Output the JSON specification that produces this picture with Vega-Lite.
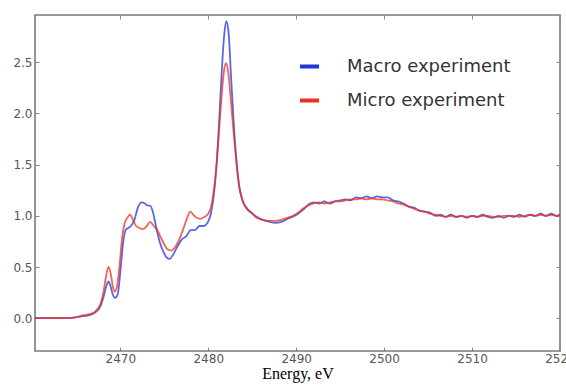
{
  "$schema": "https://vega.github.io/schema/vega-lite/v6.json",
  "width": 525,
  "height": 336,
  "autosize": {"type": "none"},
  "padding": {"left": 35, "top": 15, "right": 6, "bottom": 34},
  "background": "white",
  "config": {
    "view": {"stroke": "#7a7a7a", "strokeWidth": 1.6},
    "axis": {"grid": false, "domain": false, "labelFont": "DejaVu Sans", "labelFontSize": 12, "labelColor": "#555555", "tickColor": "#888888", "tickSize": -4, "tickWidth": 1, "labelPadding": 7, "labelFlush": false, "labelOverlap": false}
  },
  "datasets": {
    "curves": [
      {"series": "Macro experiment", "energy": 2460.3, "mu": 0.0},
      {"series": "Macro experiment", "energy": 2462, "mu": 0.0},
      {"series": "Macro experiment", "energy": 2464, "mu": 0.0},
      {"series": "Macro experiment", "energy": 2465, "mu": 0.01},
      {"series": "Macro experiment", "energy": 2465.8, "mu": 0.02},
      {"series": "Macro experiment", "energy": 2466.5, "mu": 0.03},
      {"series": "Macro experiment", "energy": 2467.2, "mu": 0.06},
      {"series": "Macro experiment", "energy": 2467.7, "mu": 0.11},
      {"series": "Macro experiment", "energy": 2468.1, "mu": 0.21},
      {"series": "Macro experiment", "energy": 2468.4, "mu": 0.31},
      {"series": "Macro experiment", "energy": 2468.65, "mu": 0.36},
      {"series": "Macro experiment", "energy": 2468.9, "mu": 0.31},
      {"series": "Macro experiment", "energy": 2469.15, "mu": 0.23},
      {"series": "Macro experiment", "energy": 2469.4, "mu": 0.2},
      {"series": "Macro experiment", "energy": 2469.7, "mu": 0.23},
      {"series": "Macro experiment", "energy": 2470.0, "mu": 0.45},
      {"series": "Macro experiment", "energy": 2470.3, "mu": 0.72},
      {"series": "Macro experiment", "energy": 2470.6, "mu": 0.86},
      {"series": "Macro experiment", "energy": 2470.9, "mu": 0.88},
      {"series": "Macro experiment", "energy": 2471.2, "mu": 0.9},
      {"series": "Macro experiment", "energy": 2471.6, "mu": 0.96},
      {"series": "Macro experiment", "energy": 2472.0, "mu": 1.08},
      {"series": "Macro experiment", "energy": 2472.4, "mu": 1.13},
      {"series": "Macro experiment", "energy": 2472.8, "mu": 1.12},
      {"series": "Macro experiment", "energy": 2473.1, "mu": 1.1},
      {"series": "Macro experiment", "energy": 2473.4, "mu": 1.1},
      {"series": "Macro experiment", "energy": 2473.7, "mu": 1.04},
      {"series": "Macro experiment", "energy": 2474.1, "mu": 0.88},
      {"series": "Macro experiment", "energy": 2474.5, "mu": 0.74},
      {"series": "Macro experiment", "energy": 2474.9, "mu": 0.65},
      {"series": "Macro experiment", "energy": 2475.3, "mu": 0.59},
      {"series": "Macro experiment", "energy": 2475.6, "mu": 0.58},
      {"series": "Macro experiment", "energy": 2476.0, "mu": 0.62},
      {"series": "Macro experiment", "energy": 2476.5, "mu": 0.7},
      {"series": "Macro experiment", "energy": 2477.0, "mu": 0.77},
      {"series": "Macro experiment", "energy": 2477.5, "mu": 0.8},
      {"series": "Macro experiment", "energy": 2478.0, "mu": 0.86},
      {"series": "Macro experiment", "energy": 2478.5, "mu": 0.86},
      {"series": "Macro experiment", "energy": 2479.0, "mu": 0.9},
      {"series": "Macro experiment", "energy": 2479.5, "mu": 0.9},
      {"series": "Macro experiment", "energy": 2479.9, "mu": 0.93},
      {"series": "Macro experiment", "energy": 2480.3, "mu": 1.02},
      {"series": "Macro experiment", "energy": 2480.6, "mu": 1.18},
      {"series": "Macro experiment", "energy": 2480.9, "mu": 1.45},
      {"series": "Macro experiment", "energy": 2481.2, "mu": 1.85},
      {"series": "Macro experiment", "energy": 2481.5, "mu": 2.35},
      {"series": "Macro experiment", "energy": 2481.8, "mu": 2.75},
      {"series": "Macro experiment", "energy": 2482.05, "mu": 2.9},
      {"series": "Macro experiment", "energy": 2482.3, "mu": 2.8},
      {"series": "Macro experiment", "energy": 2482.6, "mu": 2.35},
      {"series": "Macro experiment", "energy": 2482.9, "mu": 1.9},
      {"series": "Macro experiment", "energy": 2483.2, "mu": 1.55},
      {"series": "Macro experiment", "energy": 2483.5, "mu": 1.3},
      {"series": "Macro experiment", "energy": 2483.9, "mu": 1.15},
      {"series": "Macro experiment", "energy": 2484.4, "mu": 1.07},
      {"series": "Macro experiment", "energy": 2484.9, "mu": 1.03},
      {"series": "Macro experiment", "energy": 2485.5, "mu": 0.99},
      {"series": "Macro experiment", "energy": 2486.2, "mu": 0.96},
      {"series": "Macro experiment", "energy": 2487.0, "mu": 0.94},
      {"series": "Macro experiment", "energy": 2487.6, "mu": 0.93},
      {"series": "Macro experiment", "energy": 2488.3, "mu": 0.94},
      {"series": "Macro experiment", "energy": 2489.0, "mu": 0.97},
      {"series": "Macro experiment", "energy": 2489.6, "mu": 0.99},
      {"series": "Macro experiment", "energy": 2490.2, "mu": 1.02},
      {"series": "Macro experiment", "energy": 2490.8, "mu": 1.06},
      {"series": "Macro experiment", "energy": 2491.4, "mu": 1.11},
      {"series": "Macro experiment", "energy": 2492.0, "mu": 1.13},
      {"series": "Macro experiment", "energy": 2492.6, "mu": 1.12},
      {"series": "Macro experiment", "energy": 2493.2, "mu": 1.14},
      {"series": "Macro experiment", "energy": 2493.8, "mu": 1.12},
      {"series": "Macro experiment", "energy": 2494.4, "mu": 1.14},
      {"series": "Macro experiment", "energy": 2495.0, "mu": 1.15},
      {"series": "Macro experiment", "energy": 2495.6, "mu": 1.16},
      {"series": "Macro experiment", "energy": 2496.2, "mu": 1.15},
      {"series": "Macro experiment", "energy": 2496.8, "mu": 1.18},
      {"series": "Macro experiment", "energy": 2497.4, "mu": 1.17},
      {"series": "Macro experiment", "energy": 2498.0, "mu": 1.19},
      {"series": "Macro experiment", "energy": 2498.6, "mu": 1.17},
      {"series": "Macro experiment", "energy": 2499.2, "mu": 1.19},
      {"series": "Macro experiment", "energy": 2499.8, "mu": 1.18},
      {"series": "Macro experiment", "energy": 2500.4, "mu": 1.18},
      {"series": "Macro experiment", "energy": 2501.0, "mu": 1.15},
      {"series": "Macro experiment", "energy": 2501.6, "mu": 1.14},
      {"series": "Macro experiment", "energy": 2502.2, "mu": 1.12},
      {"series": "Macro experiment", "energy": 2502.8, "mu": 1.09},
      {"series": "Macro experiment", "energy": 2503.4, "mu": 1.08},
      {"series": "Macro experiment", "energy": 2504.0, "mu": 1.05},
      {"series": "Macro experiment", "energy": 2504.6, "mu": 1.04},
      {"series": "Macro experiment", "energy": 2505.2, "mu": 1.03},
      {"series": "Macro experiment", "energy": 2505.8, "mu": 1.0},
      {"series": "Macro experiment", "energy": 2506.4, "mu": 1.01},
      {"series": "Macro experiment", "energy": 2507.0, "mu": 0.99},
      {"series": "Macro experiment", "energy": 2507.6, "mu": 1.01},
      {"series": "Macro experiment", "energy": 2508.2, "mu": 0.99},
      {"series": "Macro experiment", "energy": 2508.8, "mu": 1.0},
      {"series": "Macro experiment", "energy": 2509.4, "mu": 0.98},
      {"series": "Macro experiment", "energy": 2510.0, "mu": 1.0},
      {"series": "Macro experiment", "energy": 2510.6, "mu": 0.99},
      {"series": "Macro experiment", "energy": 2511.2, "mu": 1.01},
      {"series": "Macro experiment", "energy": 2511.8, "mu": 0.99},
      {"series": "Macro experiment", "energy": 2512.4, "mu": 0.98},
      {"series": "Macro experiment", "energy": 2513.0, "mu": 1.0},
      {"series": "Macro experiment", "energy": 2513.6, "mu": 0.98},
      {"series": "Macro experiment", "energy": 2514.2, "mu": 1.0},
      {"series": "Macro experiment", "energy": 2514.8, "mu": 0.99},
      {"series": "Macro experiment", "energy": 2515.4, "mu": 1.01},
      {"series": "Macro experiment", "energy": 2516.0, "mu": 0.99},
      {"series": "Macro experiment", "energy": 2516.6, "mu": 1.01},
      {"series": "Macro experiment", "energy": 2517.2, "mu": 1.0},
      {"series": "Macro experiment", "energy": 2517.8, "mu": 1.02},
      {"series": "Macro experiment", "energy": 2518.4, "mu": 1.0},
      {"series": "Macro experiment", "energy": 2519.0, "mu": 1.02},
      {"series": "Macro experiment", "energy": 2519.6, "mu": 1.0},
      {"series": "Macro experiment", "energy": 2520, "mu": 1.01},
      {"series": "Micro experiment", "energy": 2460.3, "mu": 0.0},
      {"series": "Micro experiment", "energy": 2462, "mu": 0.0},
      {"series": "Micro experiment", "energy": 2464, "mu": 0.0},
      {"series": "Micro experiment", "energy": 2465, "mu": 0.01},
      {"series": "Micro experiment", "energy": 2465.8, "mu": 0.03},
      {"series": "Micro experiment", "energy": 2466.5, "mu": 0.04},
      {"series": "Micro experiment", "energy": 2467.2, "mu": 0.07},
      {"series": "Micro experiment", "energy": 2467.7, "mu": 0.13},
      {"series": "Micro experiment", "energy": 2468.1, "mu": 0.26},
      {"series": "Micro experiment", "energy": 2468.4, "mu": 0.42},
      {"series": "Micro experiment", "energy": 2468.65, "mu": 0.5},
      {"series": "Micro experiment", "energy": 2468.9, "mu": 0.44},
      {"series": "Micro experiment", "energy": 2469.15, "mu": 0.31},
      {"series": "Micro experiment", "energy": 2469.35, "mu": 0.26},
      {"series": "Micro experiment", "energy": 2469.6, "mu": 0.3},
      {"series": "Micro experiment", "energy": 2469.9, "mu": 0.5},
      {"series": "Micro experiment", "energy": 2470.2, "mu": 0.78},
      {"series": "Micro experiment", "energy": 2470.5, "mu": 0.93},
      {"series": "Micro experiment", "energy": 2470.8, "mu": 0.98},
      {"series": "Micro experiment", "energy": 2471.1, "mu": 1.01},
      {"series": "Micro experiment", "energy": 2471.4, "mu": 0.97},
      {"series": "Micro experiment", "energy": 2471.8, "mu": 0.9},
      {"series": "Micro experiment", "energy": 2472.2, "mu": 0.88},
      {"series": "Micro experiment", "energy": 2472.6, "mu": 0.87},
      {"series": "Micro experiment", "energy": 2473.0, "mu": 0.9},
      {"series": "Micro experiment", "energy": 2473.4, "mu": 0.94},
      {"series": "Micro experiment", "energy": 2473.8, "mu": 0.9},
      {"series": "Micro experiment", "energy": 2474.2, "mu": 0.86},
      {"series": "Micro experiment", "energy": 2474.6, "mu": 0.79},
      {"series": "Micro experiment", "energy": 2475.0, "mu": 0.72},
      {"series": "Micro experiment", "energy": 2475.4, "mu": 0.67},
      {"series": "Micro experiment", "energy": 2475.8, "mu": 0.66},
      {"series": "Micro experiment", "energy": 2476.2, "mu": 0.69},
      {"series": "Micro experiment", "energy": 2476.7, "mu": 0.77},
      {"series": "Micro experiment", "energy": 2477.2, "mu": 0.88},
      {"series": "Micro experiment", "energy": 2477.6, "mu": 0.98},
      {"series": "Micro experiment", "energy": 2477.95, "mu": 1.04},
      {"series": "Micro experiment", "energy": 2478.3, "mu": 1.01},
      {"series": "Micro experiment", "energy": 2478.7, "mu": 0.98},
      {"series": "Micro experiment", "energy": 2479.1, "mu": 0.97},
      {"series": "Micro experiment", "energy": 2479.6, "mu": 0.99},
      {"series": "Micro experiment", "energy": 2480.0, "mu": 1.02},
      {"series": "Micro experiment", "energy": 2480.3, "mu": 1.08},
      {"series": "Micro experiment", "energy": 2480.6, "mu": 1.22},
      {"series": "Micro experiment", "energy": 2480.9, "mu": 1.45},
      {"series": "Micro experiment", "energy": 2481.2, "mu": 1.8},
      {"series": "Micro experiment", "energy": 2481.5, "mu": 2.15},
      {"series": "Micro experiment", "energy": 2481.8, "mu": 2.42},
      {"series": "Micro experiment", "energy": 2482.0, "mu": 2.49},
      {"series": "Micro experiment", "energy": 2482.25, "mu": 2.42},
      {"series": "Micro experiment", "energy": 2482.6, "mu": 2.1},
      {"series": "Micro experiment", "energy": 2482.9, "mu": 1.8},
      {"series": "Micro experiment", "energy": 2483.2, "mu": 1.52},
      {"series": "Micro experiment", "energy": 2483.5, "mu": 1.3},
      {"series": "Micro experiment", "energy": 2483.9, "mu": 1.15},
      {"series": "Micro experiment", "energy": 2484.4, "mu": 1.07},
      {"series": "Micro experiment", "energy": 2484.9, "mu": 1.03},
      {"series": "Micro experiment", "energy": 2485.5, "mu": 0.98},
      {"series": "Micro experiment", "energy": 2486.2, "mu": 0.96},
      {"series": "Micro experiment", "energy": 2487.0, "mu": 0.95},
      {"series": "Micro experiment", "energy": 2487.6, "mu": 0.95},
      {"series": "Micro experiment", "energy": 2488.3, "mu": 0.96},
      {"series": "Micro experiment", "energy": 2489.0, "mu": 0.98},
      {"series": "Micro experiment", "energy": 2489.6, "mu": 1.0},
      {"series": "Micro experiment", "energy": 2490.2, "mu": 1.03},
      {"series": "Micro experiment", "energy": 2490.8, "mu": 1.07},
      {"series": "Micro experiment", "energy": 2491.4, "mu": 1.1},
      {"series": "Micro experiment", "energy": 2492.0, "mu": 1.12},
      {"series": "Micro experiment", "energy": 2492.6, "mu": 1.13},
      {"series": "Micro experiment", "energy": 2493.2, "mu": 1.12},
      {"series": "Micro experiment", "energy": 2493.8, "mu": 1.13},
      {"series": "Micro experiment", "energy": 2494.4, "mu": 1.14},
      {"series": "Micro experiment", "energy": 2495.0, "mu": 1.14},
      {"series": "Micro experiment", "energy": 2495.6, "mu": 1.15},
      {"series": "Micro experiment", "energy": 2496.2, "mu": 1.16},
      {"series": "Micro experiment", "energy": 2496.8, "mu": 1.16},
      {"series": "Micro experiment", "energy": 2497.4, "mu": 1.17},
      {"series": "Micro experiment", "energy": 2498.0, "mu": 1.16},
      {"series": "Micro experiment", "energy": 2498.6, "mu": 1.17},
      {"series": "Micro experiment", "energy": 2499.2, "mu": 1.16},
      {"series": "Micro experiment", "energy": 2499.8, "mu": 1.16},
      {"series": "Micro experiment", "energy": 2500.4, "mu": 1.15},
      {"series": "Micro experiment", "energy": 2501.0, "mu": 1.14},
      {"series": "Micro experiment", "energy": 2501.6, "mu": 1.12},
      {"series": "Micro experiment", "energy": 2502.2, "mu": 1.11},
      {"series": "Micro experiment", "energy": 2502.8, "mu": 1.09},
      {"series": "Micro experiment", "energy": 2503.4, "mu": 1.07},
      {"series": "Micro experiment", "energy": 2504.0, "mu": 1.05},
      {"series": "Micro experiment", "energy": 2504.6, "mu": 1.04},
      {"series": "Micro experiment", "energy": 2505.2, "mu": 1.02},
      {"series": "Micro experiment", "energy": 2505.8, "mu": 1.01},
      {"series": "Micro experiment", "energy": 2506.4, "mu": 1.0},
      {"series": "Micro experiment", "energy": 2507.0, "mu": 0.99},
      {"series": "Micro experiment", "energy": 2507.6, "mu": 1.0},
      {"series": "Micro experiment", "energy": 2508.2, "mu": 0.99},
      {"series": "Micro experiment", "energy": 2508.8, "mu": 1.0},
      {"series": "Micro experiment", "energy": 2509.4, "mu": 0.99},
      {"series": "Micro experiment", "energy": 2510.0, "mu": 1.0},
      {"series": "Micro experiment", "energy": 2510.6, "mu": 0.99},
      {"series": "Micro experiment", "energy": 2511.2, "mu": 1.0},
      {"series": "Micro experiment", "energy": 2511.8, "mu": 1.0},
      {"series": "Micro experiment", "energy": 2512.4, "mu": 0.99},
      {"series": "Micro experiment", "energy": 2513.0, "mu": 0.99},
      {"series": "Micro experiment", "energy": 2513.6, "mu": 1.0},
      {"series": "Micro experiment", "energy": 2514.2, "mu": 1.0},
      {"series": "Micro experiment", "energy": 2514.8, "mu": 1.0},
      {"series": "Micro experiment", "energy": 2515.4, "mu": 0.99},
      {"series": "Micro experiment", "energy": 2516.0, "mu": 1.0},
      {"series": "Micro experiment", "energy": 2516.6, "mu": 1.01},
      {"series": "Micro experiment", "energy": 2517.2, "mu": 1.0},
      {"series": "Micro experiment", "energy": 2517.8, "mu": 1.01},
      {"series": "Micro experiment", "energy": 2518.4, "mu": 1.0},
      {"series": "Micro experiment", "energy": 2519.0, "mu": 1.01},
      {"series": "Micro experiment", "energy": 2519.6, "mu": 1.0},
      {"series": "Micro experiment", "energy": 2520, "mu": 1.01}
    ]
  },
  "data": {"name": "curves"},
  "layer": [
    {
      "mark": {"type": "line", "strokeWidth": 1.8, "opacity": 0.75, "interpolate": "monotone", "clip": true},
      "encoding": {
        "x": {"field": "energy", "type": "quantitative", "scale": {"domain": [2460.3, 2520], "nice": false, "zero": false},
              "axis": {"title": "Energy, eV", "titleFont": "Liberation Serif", "titleFontSize": 16, "titleFontWeight": "normal", "titleColor": "#000000", "titlePadding": 1, "labelPadding": 6, "values": [2470, 2480, 2490, 2500, 2510, 2520], "format": "d"}},
        "y": {"field": "mu", "type": "quantitative", "scale": {"domain": [-0.32, 2.96], "nice": false, "zero": false},
              "axis": {"title": null, "values": [0, 0.5, 1, 1.5, 2, 2.5], "format": ".1f"}},
        "color": {"field": "series", "type": "nominal",
                  "scale": {"domain": ["Macro experiment", "Micro experiment"], "range": ["#2235d8", "#ee2f22"]},
                  "legend": {"title": null, "orient": "none", "legendX": 263, "legendY": 40, "symbolType": "stroke", "symbolSize": 361, "symbolStrokeWidth": 4, "symbolOpacity": 1, "labelFont": "DejaVu Sans", "labelFontSize": 18, "labelColor": "#333333", "labelOffset": 26, "labelLimit": 400, "rowPadding": 13}}
      }
    },
    {
      "mark": {"type": "line", "opacity": 0},
      "encoding": {
        "x": {"field": "energy", "type": "quantitative", "axis": {"orient": "top", "labels": false, "title": null, "values": [2470, 2480, 2490, 2500, 2510, 2520]}},
        "y": {"field": "mu", "type": "quantitative", "axis": {"orient": "right", "labels": false, "title": null, "values": [0, 0.5, 1, 1.5, 2, 2.5]}},
        "detail": {"field": "series", "type": "nominal"}
      }
    }
  ],
  "resolve": {"axis": {"x": "independent", "y": "independent"}}
}
